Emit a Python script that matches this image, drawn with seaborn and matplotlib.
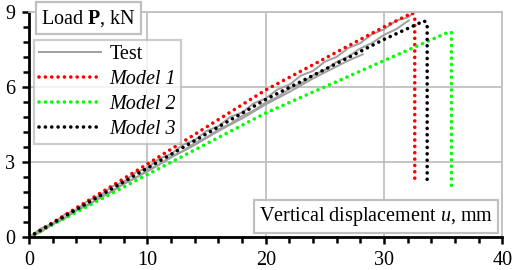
import numpy as np
import pandas as pd
import matplotlib
matplotlib.use("Agg")
import matplotlib.pyplot as plt
import seaborn as sns
from matplotlib.ticker import MultipleLocator

# Test curves (jagged record)
test1_u = [0, 1, 2, 3, 4, 5, 6, 7, 8, 9, 10, 11, 12, 13, 14, 15, 16, 17, 18, 19, 20,
           21, 22, 23, 24, 25, 26, 27, 28, 29, 30, 31, 32, 32.3]
test1_p = [0, 0.34, 0.55, 0.90, 1.10, 1.46, 1.66, 2.02, 2.21, 2.58, 2.77, 3.13, 3.32, 3.69,
           3.88, 4.24, 4.43, 4.80, 4.98, 5.35, 5.54, 5.90, 6.09, 6.46, 6.64, 7.01, 7.20,
           7.56, 7.75, 8.11, 8.30, 8.64, 8.78, 8.88]
test2_u = [0, 1, 2, 3, 4, 5, 6, 7, 8, 9, 10, 11, 12, 13, 14, 15, 16, 17, 18, 19, 20,
           21, 22, 23, 24, 25, 26, 27, 28, 29, 30, 31, 32.1]
test2_p = [0, 0.20, 0.52, 0.74, 1.06, 1.28, 1.60, 1.82, 2.14, 2.36, 2.68, 2.90, 3.22, 3.44,
           3.76, 3.98, 4.30, 4.52, 4.84, 5.06, 5.38, 5.60, 5.92, 6.14, 6.46, 6.68, 7.00,
           7.22, 7.54, 7.76, 8.08, 8.30, 8.66]
test3_u = [0, 2, 4, 6, 8, 10, 12, 14, 16, 18, 20, 22, 24, 26, 27, 28.2]
test3_p = [0, 0.50, 1.06, 1.56, 2.12, 2.62, 3.18, 3.68, 4.24, 4.74, 5.30, 5.80, 6.34, 6.82,
           7.06, 7.30]

# Models: rise then sudden drop
m1_u = [0, 10, 20, 30, 32.4, 32.6, 32.6]
m1_p = [0, 2.92, 5.88, 8.40, 8.96, 8.80, 2.20]
m2_u = [0, 10, 20, 30, 35.5, 35.7, 35.7]
m2_p = [0, 2.50, 4.96, 7.05, 8.20, 8.18, 2.00]
m3_u = [0, 10, 20, 30, 33.4, 33.65, 33.65]
m3_p = [0, 2.76, 5.50, 7.90, 8.64, 8.52, 2.08]

plt.rcParams['font.family'] = ['Liberation Serif', 'DejaVu Serif']
plt.rcParams['mathtext.fontset'] = 'custom'
plt.rcParams['mathtext.rm'] = 'Liberation Serif'
plt.rcParams['mathtext.it'] = 'Liberation Serif:italic'
plt.rcParams['mathtext.bf'] = 'Liberation Serif:bold'

fs = 14.5
fig = plt.figure(figsize=(5.12, 2.7), dpi=100)
ax = fig.add_axes([0.057, 0.122, 0.924, 0.834])

gray = '#a0a0a0'
for i, (u, p) in enumerate([(test1_u, test1_p), (test2_u, test2_p), (test3_u, test3_p)]):
    sns.lineplot(x=u, y=p, ax=ax, sort=False, estimator=None, color=gray, lw=1.4,
                 label='Test' if i == 0 else None)

dots = (0, (0.01, 1.75))
for u, p, c, name in [(m1_u, m1_p, '#ff0000', 'Model 1'),
                      (m2_u, m2_p, '#00ff00', 'Model 2'),
                      (m3_u, m3_p, '#000000', 'Model 3')]:
    sns.lineplot(x=u, y=p, ax=ax, sort=False, estimator=None, color=c, lw=2.6,
                 linestyle=dots, label=name)
for ln in ax.lines[3:]:
    ln.set_dash_capstyle('round')

ax.set_xlim(0, 40)
ax.set_ylim(0, 9)
ax.xaxis.set_major_locator(MultipleLocator(10))
ax.xaxis.set_minor_locator(MultipleLocator(2))
ax.yaxis.set_major_locator(MultipleLocator(3))
ax.yaxis.set_minor_locator(MultipleLocator(0.6))
ax.grid(True, which='major', color='#c0c0c0', lw=1.3)
ax.set_axisbelow(True)
for s in ['left', 'bottom']:
    ax.spines[s].set_color('black')
    ax.spines[s].set_linewidth(2.0)
for s in ['top', 'right']:
    ax.spines[s].set_color('#c0c0c0')
    ax.spines[s].set_linewidth(1.3)
ax.tick_params(which='both', direction='out', width=1.8, color='black',
               top=False, right=False)
ax.tick_params(which='major', length=5, labelsize=fs, pad=5)
ax.tick_params(which='minor', length=4)
ax.set_xlabel('')
ax.set_ylabel('')

leg = ax.legend(loc='upper left', bbox_to_anchor=(0.01, 0.876), fontsize=fs,
                frameon=True, fancybox=False, handlelength=3.1, labelspacing=0.3,
                borderpad=0.25, handletextpad=0.4, borderaxespad=0)
leg.get_frame().set_edgecolor('#c0c0c0')
leg.get_frame().set_linewidth(1.6)
for t in leg.get_texts():
    if t.get_text().startswith('Model'):
        t.set_fontstyle('italic')

box = dict(boxstyle='square,pad=0.26', fc='white', ec='#c0c0c0', lw=1.6)
fig.text(0.08, 0.933, r'Load $\mathbf{P}$, kN', fontsize=fs, va='center', ha='left', bbox=box)
fig.text(0.963, 0.198, r'Vertical displacement $u$, mm', fontsize=fs, va='center', ha='right',
         bbox=box)

fig.savefig('out.png', dpi=100)
